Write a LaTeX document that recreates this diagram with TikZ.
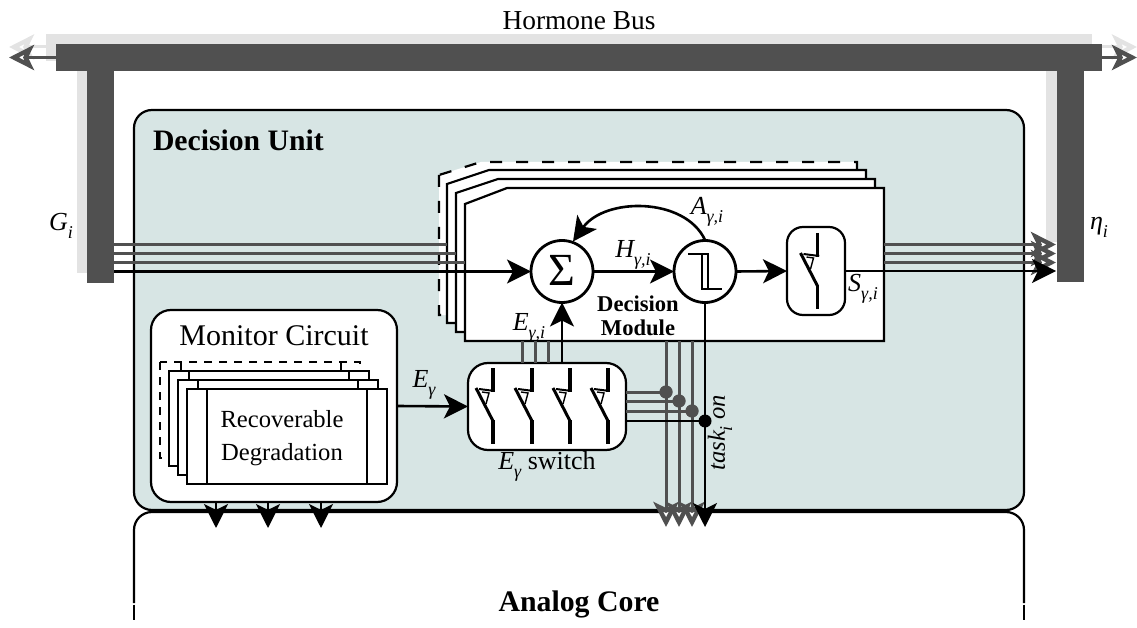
\documentclass[tikz,border=0pt]{standalone}
\usepackage{fontspec}
\setmainfont{Liberation Serif}
\usetikzlibrary{arrows.meta}
\definecolor{unitfill}{HTML}{D7E5E4}
\definecolor{busdark}{HTML}{505050}
\definecolor{buslight}{HTML}{E3E3E3}
\newcommand\fsz[1]{\fontsize{#1}{#1}\selectfont}
\newcommand\lab[2]{{\itshape #1}\raisebox{-.3em}{\fsz{18}\itshape #2}}
\tikzset{
  x=1pt,y=-1pt,
  txt/.style={inner sep=0pt,outer sep=0pt,font=\fsz{26}},
  blk/.style={draw=none,inner sep=0pt,outer sep=0pt},
  busbar/.style={fill=busdark,draw=none},
  busghost/.style={fill=buslight,draw=none},
  blackarrow/.style={line width=2.6pt,black,-{Stealth[length=24pt,width=24pt,inset=6pt]}},
  greyarrow/.style={line width=3pt,busdark,-{Stealth[length=25pt,width=25pt,inset=6pt,fill=white,line width=4.4pt]}},
  ghostarrow/.style={line width=3pt,buslight,-{Stealth[length=25pt,width=25pt,inset=6pt,fill=white,line width=4.4pt]}},
  greyline/.style={line width=3pt,busdark},
  blackline/.style={line width=2.6pt,black},
  modlayer/.style={draw=black,fill=white,line width=2.2pt,line join=miter},
  modghost/.style={modlayer,dashed,dash pattern=on 12pt off 14pt},
  monlayer/.style={draw=black,fill=white,line width=1.6pt},
  roundbox/.style={draw=black,fill=white,line width=2.2pt,inner sep=0pt,outer sep=0pt},
  opcircle/.style={circle,draw=black,fill=white,line width=2.8pt,minimum size=62pt,inner sep=0pt,outer sep=0pt},
  junction/.style={circle,fill=#1,minimum size=13pt,inner sep=0pt,outer sep=0pt},
  swsym/.pic={
    \draw[line width=3.4pt] (0,0) -- (0,24);
    \draw[line width=2pt] (1.7,23) -- (-14,21);
    \draw[line width=3pt] (-17,20) -- (0,53);
    \draw[line width=3.4pt] (0,52) -- (0,76);
    \draw[line width=1.4pt] (-11,24) -- (-4,25) -- (-7,36);
  }
}
\begin{document}
\begin{tikzpicture}
\useasboundingbox (0,0) rectangle (1137,628);
% ghost of the bus
\fill[busghost] (46,34) rectangle (1092,61);
\fill[busghost] (77,61) rectangle (87,273);
\fill[busghost] (1046,61) rectangle (1057,242);
\coordinate (ghostl) at (46,47);
\coordinate (ghostle) at (9,47);
\coordinate (ghostr) at (1092,47);
\coordinate (ghostre) at (1137,47);
\draw[ghostarrow] (ghostl) -- (ghostle);
\draw[ghostarrow] (ghostr) -- (ghostre);
% bus
\node[blk,busbar,minimum width=1046pt,minimum height=27pt] (bus) at (579,57.5) {};
\node[blk,busbar,minimum width=27pt,minimum height=212pt] (gbar) at (100.5,177) {};
\node[blk,busbar,minimum width=27pt,minimum height=211pt] (ebar) at (1070.5,176.5) {};
\coordinate (busle) at (9,57.5);
\coordinate (busre) at (1137,57.5);
\draw[greyarrow] (bus.west) -- (busle);
\draw[greyarrow] (bus.east) -- (busre);
\node[txt,font=\fsz{27.4}] (hbus) at (579,21) {Hormone Bus};
\node[txt] (gl) at (61,226) {\lab{G}{i}};
\node[txt] (el) at (1099,227) {\lab{η}{i}};
% analog core
\draw[line width=2.2pt,rounded corners=18pt] (134,603) -- (134,512) -- (1024,512) -- (1024,603);
\draw[line width=2.2pt] (134,604.5) -- (134,620);
\draw[line width=2.2pt] (1024,604.5) -- (1024,620);
\node[txt,font=\bfseries\fsz{29.8}] (core) at (579,604) {Analog Core};
% decision unit
\node[roundbox,fill=unitfill,rounded corners=18pt,minimum width=890pt,minimum height=400pt] (unit) at (579,310) {};
\node[txt,anchor=west,font=\bfseries\fsz{29.7}] (unitl) at (153,140) {Decision Unit};
% module stack
\draw[modghost] (439,175) -- (439,315) -- (857,315) -- (857,162) -- (481,162) -- cycle;
\draw[modlayer] (447,184) -- (447,323) -- (866,323) -- (866,170) -- (489,170) -- cycle;
\draw[modlayer] (456,193) -- (456,332) -- (875,332) -- (875,179) -- (498,179) -- cycle;
\draw[modlayer] (465,204) -- (465,341) -- (884,341) -- (884,188) -- (507,188) -- cycle;
% inputs
\foreach \n/\yy/\xx in {1/244.5/447,2/253.5/456,3/262.5/465}{
  \coordinate (gin\n) at (114,\yy);
  \coordinate (gend\n) at (\xx,\yy);
  \draw[greyline] (gin\n) -- (gend\n);
}
\node[opcircle] (sum) at (562,271.5) {};
\node[txt,font=\fsz{46}] at (562,270) {Σ};
\node[opcircle] (thr) at (705,271.5) {};
\draw[line width=2.8pt,line join=miter] (688,254) -- (708,254) -- (708,289) -- (722,289);
\draw[line width=2.8pt,line join=miter] (702,254) -- (702,289) -- (722,289);
\coordinate (gin4) at (114,271.5);
\draw[blackarrow] (gin4) -- (sum.west);
\draw[blackarrow] (sum.east) -- (thr.west);
\coordinate (ffrom) at (705,240);
\coordinate (fto) at (573,241.5);
\draw[blackarrow] (ffrom) .. controls (685,197) and (605,197) .. (fto);
\node[txt] (al) at (707,212) {\lab{A}{γ,i}};
\node[txt] (hl) at (633,255) {\lab{H}{γ,i}};
\node[txt] (eil) at (529,328) {\lab{E}{γ,i}};
\node[txt,font=\bfseries\fsz{22.6},align=center] (modl) at (638,316) {Decision\\[1pt]Module};
% output switch
\node[roundbox,rounded corners=16pt,minimum width=58pt,minimum height=88pt] (sbox) at (816,271) {};
\pic at (817.5,233) {swsym};
\draw[blackarrow] (thr.east) -- (sbox.west);
\node[txt] (sl) at (863,289) {\lab{S}{γ,i}};
% outputs
\foreach \n/\yy in {1/244.5,2/253.5,3/262.5}{
  \coordinate (sfrom\n) at (884,\yy);
  \coordinate (sto\n) at (1056,\yy);
  \draw[greyarrow] (sfrom\n) -- (sto\n);
}
\coordinate (sto4) at (1056,271);
\draw[blackarrow] (sbox.east |- sto4) -- (sto4);
% monitor
\node[roundbox,rounded corners=20pt,minimum width=246pt,minimum height=192pt] (mon) at (274,406) {};
\node[txt,font=\fsz{30}] (monl) at (274,336) {Monitor Circuit};
\draw[monlayer,dashed,dash pattern=on 8pt off 7pt] (160,362) rectangle (360,458);
\draw[monlayer,dashed,dash pattern=on 8pt off 7pt] (181,362) -- (181,458) (341,362) -- (341,458);
\foreach \dx/\dy in {9/371,18/380,27/389}{
  \draw[monlayer] (160+\dx,\dy) rectangle (360+\dx,\dy+95);
  \draw[monlayer] (180+\dx,\dy) -- (180+\dx,\dy+95) (340+\dx,\dy) -- (340+\dx,\dy+95);
}
\node[txt,font=\fsz{24.6},align=center] (degr) at (282,438) {Recoverable\\[9pt]Degradation};
\foreach \n/\xx in {1/216,2/268,3/321}{
  \coordinate (mout\n) at (\xx,502);
  \coordinate (mto\n) at (\xx,528);
  \draw[blackarrow] (mout\n) -- (mto\n);
}
% E switch
\node[roundbox,rounded corners=20pt,minimum width=158pt,minimum height=87pt] (ebox) at (547,406.5) {};
\foreach \xx in {493,532,570,608}{\pic at (\xx,368) {swsym};}
\draw[blackarrow] (mon.east) -- (ebox.west);
\node[txt] (eg) at (424,385) {\lab{E}{γ}};
\node[txt] (egs) at (547,466) {\lab{E}{γ} switch};
\foreach \n/\xx in {1/522,2/535,3/548}{
  \coordinate (eup\n) at (\xx,363);
  \coordinate (etop\n) at (\xx,341);
  \draw[greyline] (eup\n) -- (etop\n);
}
\draw[blackarrow] (562,363) -- (sum.south);
% task verticals
\foreach \n/\xx/\yy in {1/666/392,2/679/401,3/692/411}{
  \coordinate (vtop\n) at (\xx,341);
  \coordinate (vend\n) at (\xx,527);
  \node[junction=busdark] (j\n) at (\xx,\yy) {};
  \coordinate (hout\n) at (626,\yy);
  \draw[greyline] (hout\n) -- (j\n);
  \draw[greyarrow] (vtop\n) -- (vend\n);
  \node[junction=busdark] at (j\n) {};
}
\coordinate (vend4) at (705,527);
\draw[blackarrow] (thr.south) -- (vend4);
\node[junction=black] (j4) at (705,421) {};
\coordinate (hout4) at (626,421);
\draw[blackline] (hout4) -- (j4);
\node[txt,rotate=90,font=\fsz{24.6}] (task) at (720,433) {\itshape task\raisebox{-.3em}{\fsz{18}i} on};
\end{tikzpicture}
\end{document}
